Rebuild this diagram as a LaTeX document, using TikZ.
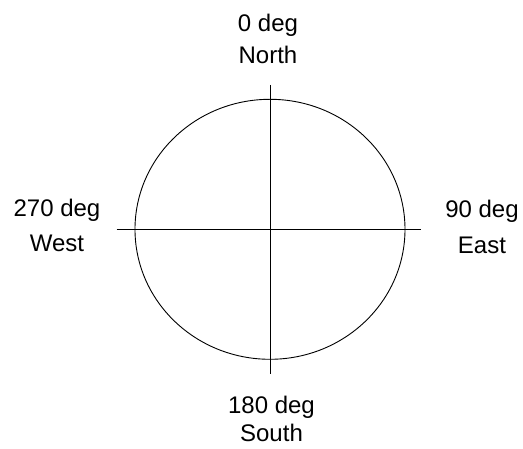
\documentclass[tikz,border=0pt]{standalone}
\usepackage{fontspec}
\setmainfont{Liberation Sans}
\begin{document}
\begin{tikzpicture}[x=1pt,y=1pt,line width=0.9pt,
    lbl/.style={align=center,inner sep=0pt,font=\fontsize{24}{32}\selectfont}]
\useasboundingbox (-270,-219.7) rectangle (253,229.3);
\coordinate (o) at (0,0);
\draw (o) ellipse (135 and 130);

\coordinate (n) at (0,144.5);
\coordinate (s) at (0,-144.5);
\coordinate (w) at (-153.3,0);
\coordinate (e) at (150.7,0);
\draw (w)--(e);
\draw (n)--(s);

\node[lbl] (north) at (-2,190.5) {0 deg\\[-0.4pt]North};
\node[lbl] (west) at (-213,3.8) {270 deg\\[3.5pt]West};
\node[lbl] (east) at (212,2.4) {90 deg\\[4.7pt]East};
\node[lbl] (south) at (1.5,-189.8) {180 deg\\[-4.3pt]South};
\end{tikzpicture}
\end{document}
